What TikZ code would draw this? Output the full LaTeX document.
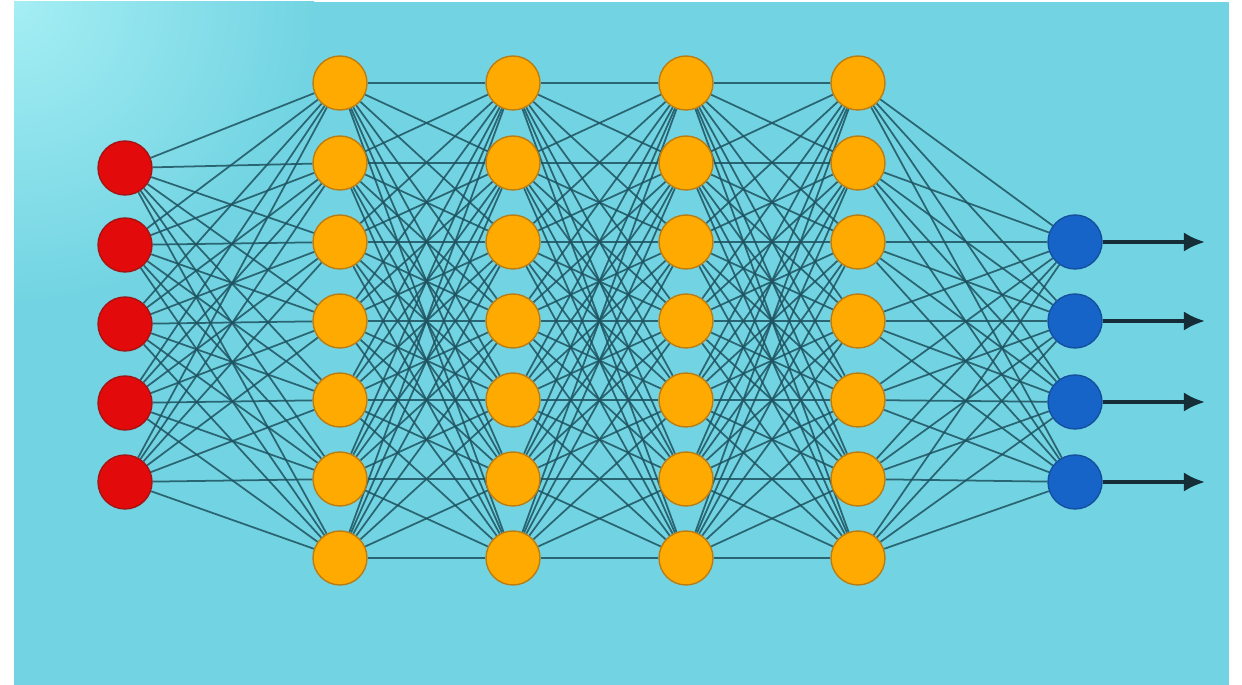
\documentclass[tikz,border=0pt]{standalone}
\usetikzlibrary{arrows.meta}
\pgfdeclarelayer{bgl}
\pgfdeclarelayer{edgel}
\pgfsetlayers{bgl,edgel,main}
\definecolor{bgc}{RGB}{114,212,226}
\definecolor{bglight}{RGB}{165,238,244}
\definecolor{edgec}{RGB}{30,82,96}
\definecolor{orangec}{RGB}{255,170,0}
\definecolor{orangeb}{RGB}{185,125,20}
\definecolor{redc}{RGB}{226,10,10}
\definecolor{redb}{RGB}{165,20,20}
\definecolor{bluec}{RGB}{22,100,200}
\definecolor{blueb}{RGB}{20,80,160}
\definecolor{arrowc}{RGB}{20,45,55}
\tikzset{
  neuron/.style={circle, minimum size=1.08cm, inner sep=0pt, line width=0.8pt},
  innode/.style={neuron, fill=redc, draw=redb},
  hidnode/.style={neuron, fill=orangec, draw=orangeb},
  outnode/.style={neuron, fill=bluec, draw=blueb},
  link/.style={draw=edgec, line width=1pt, opacity=0.85},
  outarrow/.style={draw=arrowc, line width=2.2pt, -{Latex[length=12pt,width=11pt]}}
}
\begin{document}
\begin{tikzpicture}[x=0.02cm,y=-0.02cm]
\useasboundingbox (0,0) rectangle (1242,685);
\begin{pgfonlayer}{bgl}
\fill[white] (0,0) rectangle (1242,685);
\fill[bgc] (14,2) rectangle (1229,685);
\begin{scope}
\clip (14,2) rectangle (1229,685);
\shade[inner color=bglight, outer color=bgc] (14,2) circle[radius=300];
\end{scope}
\end{pgfonlayer}
% input layer
\foreach \a/\y in {1/168,2/245,3/324,4/403,5/482}
  \node[innode] (i\a) at (125,\y) {};
% hidden layers
\foreach \l/\x in {1/340,2/513,3/686,4/858}{
  \foreach \b/\y in {1/83,2/163,3/242,4/321,5/400,6/479,7/558}
    \node[hidnode] (h\l-\b) at (\x,\y) {};
}
% output layer
\foreach \c/\y in {1/242,2/321,3/402,4/482}{
  \node[outnode] (o\c) at (1075,\y) {};
  \coordinate (t\c) at (1205,\y);
}
\begin{pgfonlayer}{edgel}
\foreach \a in {1,...,5}
  \foreach \b in {1,...,7}
    \draw[link] (i\a) -- (h1-\b);
\foreach \l/\m in {1/2,2/3,3/4}
  \foreach \a in {1,...,7}
    \foreach \b in {1,...,7}
      \draw[link] (h\l-\a) -- (h\m-\b);
\foreach \a in {1,...,7}
  \foreach \c in {1,...,4}
    \draw[link] (h4-\a) -- (o\c);
\end{pgfonlayer}
\foreach \c in {1,...,4}
  \draw[outarrow] (o\c) -- (t\c);
\end{tikzpicture}
\end{document}
